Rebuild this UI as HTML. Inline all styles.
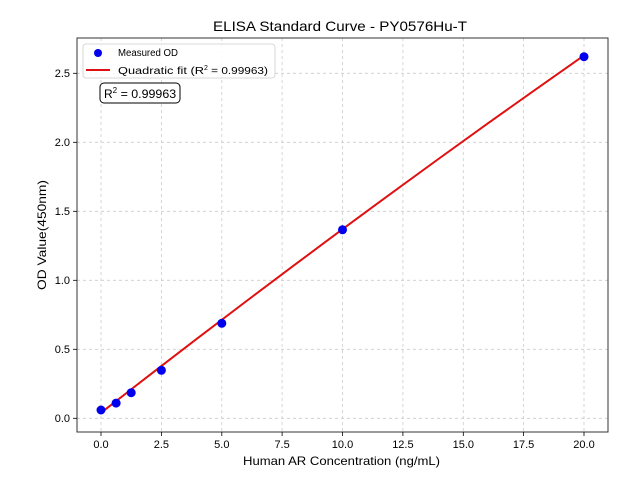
<!DOCTYPE html>
<html><head><meta charset="utf-8"><style>body{margin:0;background:#fff}svg{display:block}text{font-family:"Liberation Sans","Noto Sans CJK SC",sans-serif;fill:#000}</style></head>
<body>
<svg width="640" height="480" viewBox="0 0 640 480" xmlns="http://www.w3.org/2000/svg">
<rect width="640" height="480" fill="#fff"/>
<g stroke="#cccccc" stroke-width="0.8" stroke-dasharray="3,3">
<line x1="101" y1="38" x2="101" y2="432"/><line x1="161.4" y1="38" x2="161.4" y2="432"/><line x1="221.8" y1="38" x2="221.8" y2="432"/><line x1="282.1" y1="38" x2="282.1" y2="432"/><line x1="342.5" y1="38" x2="342.5" y2="432"/><line x1="402.9" y1="38" x2="402.9" y2="432"/><line x1="463.3" y1="38" x2="463.3" y2="432"/><line x1="523.6" y1="38" x2="523.6" y2="432"/><line x1="584" y1="38" x2="584" y2="432"/>
<line x1="77" y1="418.3" x2="608" y2="418.3"/><line x1="77" y1="349.3" x2="608" y2="349.3"/><line x1="77" y1="280.3" x2="608" y2="280.3"/><line x1="77" y1="211.3" x2="608" y2="211.3"/><line x1="77" y1="142.3" x2="608" y2="142.3"/><line x1="77" y1="73.3" x2="608" y2="73.3"/>
</g>
<polyline fill="none" stroke="#e01010" stroke-width="2" points="101,412.8 149.3,375.3 197.6,338.2 245.9,301.5 294.2,265.2 342.5,229.2 390.8,193.7 439.1,158.5 487.4,123.7 535.7,89.4 584,55.4"/>
<g fill="#0000ee">
<circle cx="101" cy="410" r="4.5"/><circle cx="116.1" cy="403.1" r="4.5"/><circle cx="131.2" cy="392.7" r="4.5"/><circle cx="161.4" cy="370.3" r="4.5"/><circle cx="221.8" cy="323.3" r="4.5"/><circle cx="342.5" cy="229.8" r="4.5"/><circle cx="584" cy="56.7" r="4.5"/>
</g>
<rect x="77" y="38" width="531" height="394" fill="none" stroke="#333" stroke-width="1"/>
<g stroke="#000" stroke-width="0.8">
<line x1="101" y1="432" x2="101" y2="436"/><line x1="161.4" y1="432" x2="161.4" y2="436"/><line x1="221.8" y1="432" x2="221.8" y2="436"/><line x1="282.1" y1="432" x2="282.1" y2="436"/><line x1="342.5" y1="432" x2="342.5" y2="436"/><line x1="402.9" y1="432" x2="402.9" y2="436"/><line x1="463.3" y1="432" x2="463.3" y2="436"/><line x1="523.6" y1="432" x2="523.6" y2="436"/><line x1="584" y1="432" x2="584" y2="436"/>
<line x1="73" y1="418.3" x2="77" y2="418.3"/><line x1="73" y1="349.3" x2="77" y2="349.3"/><line x1="73" y1="280.3" x2="77" y2="280.3"/><line x1="73" y1="211.3" x2="77" y2="211.3"/><line x1="73" y1="142.3" x2="77" y2="142.3"/><line x1="73" y1="73.3" x2="77" y2="73.3"/>
</g>
<g font-size="11" text-anchor="middle">
<text x="101" y="448">0.0</text><text x="161.4" y="448">2.5</text><text x="221.8" y="448">5.0</text><text x="282.1" y="448">7.5</text><text x="342.5" y="448">10.0</text><text x="402.9" y="448">12.5</text><text x="463.3" y="448">15.0</text><text x="523.6" y="448">17.5</text><text x="584" y="448">20.0</text>
</g>
<g font-size="11" text-anchor="end">
<text x="70" y="422">0.0</text><text x="70" y="353">0.5</text><text x="70" y="284">1.0</text><text x="70" y="215">1.5</text><text x="70" y="146">2.0</text><text x="70" y="77">2.5</text>
</g>
<text x="243" y="465" font-size="12" textLength="197" lengthAdjust="spacingAndGlyphs">Human AR Concentration (ng/mL)</text>
<text x="46" y="235" font-size="12" text-anchor="middle" textLength="110" lengthAdjust="spacingAndGlyphs" transform="rotate(-90 46 235)">OD Value(450nm)</text>
<text x="213" y="31" font-size="14" textLength="254" lengthAdjust="spacingAndGlyphs">ELISA Standard Curve - PY0576Hu-T</text>
<rect x="83" y="44" width="192" height="34" rx="3" fill="#fff" fill-opacity="0.85" stroke="#ccc" stroke-width="0.8"/>
<circle cx="98" cy="53" r="4" fill="#0000ee"/>
<text x="118" y="56" font-size="10" textLength="60" lengthAdjust="spacingAndGlyphs">Measured OD</text>
<line x1="86" y1="70" x2="110" y2="70" stroke="#e01010" stroke-width="2"/>
<text x="118" y="74" font-size="10"><tspan textLength="86" lengthAdjust="spacingAndGlyphs">Quadratic fit (R</tspan><tspan font-size="7" dy="-4">2</tspan><tspan dy="4" textLength="60" lengthAdjust="spacingAndGlyphs"> = 0.99963)</tspan></text>
<rect x="100" y="83" width="80" height="20" rx="4" fill="#fff" stroke="#000" stroke-width="1"/>
<text x="104" y="98" font-size="12">R<tspan font-size="8" dy="-5">2</tspan><tspan dy="5" textLength="59" lengthAdjust="spacingAndGlyphs"> = 0.99963</tspan></text>
</svg>
</body></html>
